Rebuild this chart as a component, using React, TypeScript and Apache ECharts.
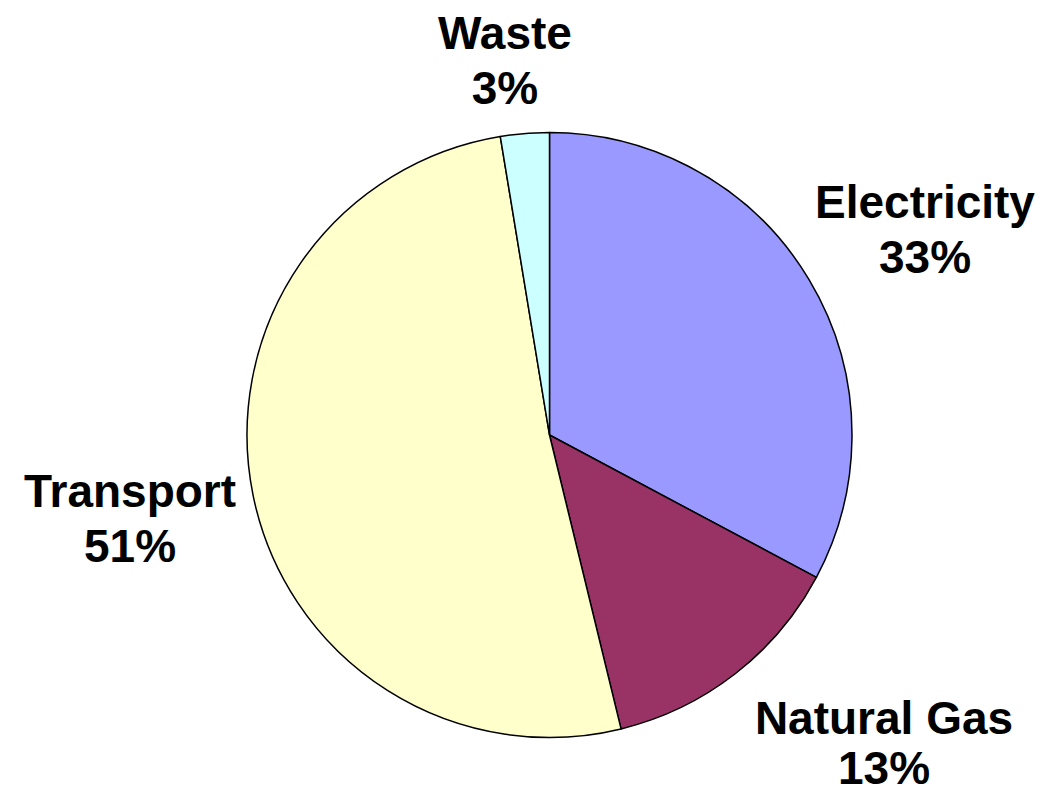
import React, { useEffect, useRef } from "react";
import * as echarts from "echarts";

const categories = ["Electricity", "Natural Gas", "Transport", "Waste"];
const values = [32.8, 13.4, 51.2, 2.6];
const colors = ["#9999FF", "#993366", "#FFFFCC", "#CCFFFF"];
const labelPos = [
  [925, 229],
  [884, 743],
  [130, 518],
  [505, 60],
];
const labelLineHeights = [55, 50, 55, 55];

export default function App() {
  const ref = useRef<HTMLDivElement>(null);
  useEffect(() => {
    const chart = echarts.init(ref.current!, null, { renderer: "svg" });
    chart.setOption({
      animation: false,
      backgroundColor: "#FFFFFF",
      series: [
        {
          type: "pie",
          center: [549.5, 435],
          radius: 302.5,
          startAngle: 90,
          clockwise: true,
          percentPrecision: 0,
          data: categories.map((c, i) => ({
            name: c,
            value: values[i],
            itemStyle: { color: colors[i] },
            label: { lineHeight: labelLineHeights[i] },
          })),
          itemStyle: { borderColor: "#000000", borderWidth: 1.5 },
          label: {
            show: true,
            position: "outside",
            formatter: "{b}\n{d}%",
            fontFamily: "Liberation Sans, Arial, sans-serif",
            fontWeight: "bold",
            fontSize: 46,
            lineHeight: 55,
            color: "#000000",
            align: "center",
            overflow: "none",
          },
          labelLine: { show: false },
          labelLayout: (params: any) => ({
            x: labelPos[params.dataIndex][0],
            y: labelPos[params.dataIndex][1],
            align: "center",
            verticalAlign: "middle",
          }),
          emphasis: { disabled: true },
        },
      ],
    });
    return () => chart.dispose();
  }, []);
  return (
    <div
      ref={ref}
      style={{ position: "fixed", left: 0, top: 0, width: 1051, height: 794 }}
    />
  );
}
